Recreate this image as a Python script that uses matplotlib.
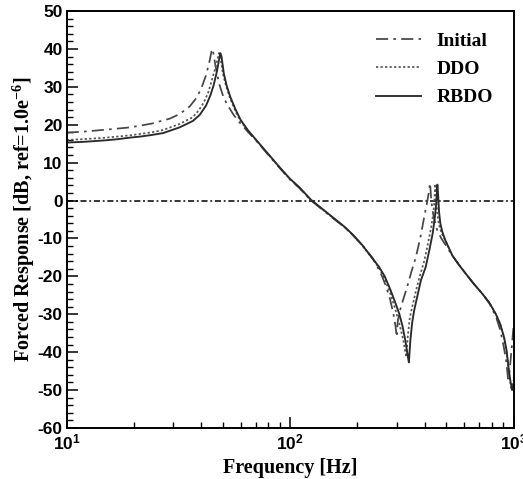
import matplotlib
matplotlib.use("Agg")
import matplotlib.pyplot as plt
from matplotlib.ticker import MultipleLocator, LogLocator, FixedLocator, NullFormatter

plt.rcParams['axes.unicode_minus'] = False
plt.rcParams['mathtext.fontset'] = 'custom'
plt.rcParams['mathtext.rm'] = 'Liberation Serif:bold'
plt.rcParams['mathtext.sf'] = 'Liberation Sans:bold'
plt.rcParams['mathtext.bf'] = 'Liberation Serif:bold'

# ---- data ----
freq_initial = [10, 12, 15, 17, 19.2, 21.5, 24, 28.9, 32, 35.5, 38, 40, 42, 43.5, 44.7, 45.3, 46.5, 48.3, 50.5,
                52.7, 56, 59.4, 65, 70, 78.7, 90, 100, 110, 124, 140, 155, 175, 190, 210, 234, 245, 258, 270,
                280, 290, 296, 300, 303, 310, 320, 335, 350, 365, 382, 398, 410, 417, 423, 427, 432, 441, 455,
                475, 500, 532, 570, 611, 660, 725, 780, 832, 870, 900, 925, 945, 960, 980, 1000]
db_initial = [17.9, 18.2, 18.7, 19.0, 19.3, 19.8, 20.3, 21.6, 22.8, 24.8, 27.0, 29.5, 33.0, 36.5, 40.0, 39.0, 35.0,
              30.5, 27.0, 25.0, 22.5, 20.6, 18.0, 16.0, 12.5, 8.5, 5.5, 3.3, 0.0, -2.5, -4.6, -7.0, -9.0, -11.7,
              -15.2, -17.3, -20.0, -23.0, -26.0, -30.0, -33.0, -36.0, -32.0, -29.0, -26.3, -22.5, -18.5, -15.0,
              -10.0, -4.4, -0.5, 2.0, 4.6, 1.0, -2.0, -4.8, -7.8, -10.0, -12.0, -14.5, -17.0, -19.3, -21.8, -24.6,
              -27.2, -30.5, -34.0, -38.0, -42.0, -47.0, -45.0, -39.0, -33.0]

freq_ddo = [10, 12, 15, 17, 19.2, 21.5, 24, 27, 32, 36.7, 39, 41, 43, 45, 46.5, 48, 48.7, 50, 51.8, 54, 57, 60,
            65, 70, 78.7, 90, 100, 110, 124, 140, 155, 175, 190, 210, 234, 250, 265, 280, 295, 308, 320, 331,
            336, 343, 352, 365, 380, 398, 415, 428, 438, 442, 446, 450, 455, 462, 475, 495, 532, 570, 611, 660,
            725, 780, 832, 870, 906, 930, 953, 975, 990, 1000]
db_ddo = [16.0, 16.2, 16.6, 16.9, 17.2, 17.6, 18.0, 18.6, 20.2, 22.0, 23.8, 25.8, 28.5, 32.5, 35.5, 38.9, 38.0,
          33.5, 30.0, 26.8, 23.5, 21.0, 18.3, 16.1, 12.6, 8.6, 5.6, 3.4, 0.1, -2.4, -4.5, -7.0, -9.0, -11.8,
          -15.4, -17.8, -20.8, -24.3, -28.5, -32.5, -36.5, -41.3, -36.0, -31.0, -28.0, -24.0, -20.0, -16.0,
          -11.0, -7.0, -3.0, 0.0, 4.4, 1.0, -3.0, -6.0, -8.5, -10.5, -14.5, -17.0, -19.3, -21.8, -24.6, -27.0,
          -29.9, -32.5, -36.0, -39.8, -45.5, -49.5, -48.5, -47.5]

freq_rbdo = [10, 12, 15, 17, 19.2, 21.5, 24, 27, 32, 36.7, 39.4, 42, 44, 45.5, 47, 48.7, 49.3, 50.5, 52, 54, 57,
             60, 65, 70, 78.7, 90, 100, 110, 124, 140, 155, 175, 190, 210, 234, 250, 265, 280, 295, 308, 318,
             328, 336, 340, 345, 352, 359, 370, 385, 404, 420, 435, 445, 451, 456, 460, 464, 470, 480, 495, 532,
             570, 611, 660, 725, 780, 832, 870, 906, 930, 953, 970, 985, 1000]
db_rbdo = [15.3, 15.5, 15.9, 16.2, 16.6, 16.9, 17.3, 17.8, 19.3, 21.0, 22.6, 25.0, 27.8, 30.5, 34.0, 38.9, 38.0,
           33.5, 30.3, 27.3, 24.0, 21.3, 18.4, 16.2, 12.7, 8.7, 5.7, 3.5, 0.2, -2.3, -4.4, -6.9, -8.9, -11.7,
           -15.3, -17.5, -20.0, -23.3, -26.8, -29.9, -33.0, -37.0, -41.0, -42.7, -37.0, -32.0, -29.0, -25.5,
           -21.0, -17.6, -13.0, -8.5, -4.0, -0.5, 4.2, 1.0, -3.0, -6.0, -8.3, -10.5, -14.5, -17.0, -19.3, -21.8,
           -24.6, -27.0, -29.9, -32.5, -36.0, -39.5, -44.9, -48.0, -50.0, -48.5]

ref_level = 0.0
series_names = ['Initial', 'DDO', 'RBDO']
y_ticks = list(range(-60, 51, 10))
x_ticks = [10, 100, 1000]
x_ticklabels = [r'$\mathsf{10^{1}}$', r'$\mathsf{10^{2}}$', r'$\mathsf{10^{3}}$']

# ---- figure ----
fig = plt.figure(figsize=(5.23, 4.79), dpi=100)
ax = fig.add_axes([0.1275, 0.1065, 0.8545, 0.8705])

ax.axhline(ref_level, color='black', lw=1.1, dashes=(4, 1.8, 1.2, 1.8))
ax.plot(freq_initial, db_initial, color='#454545', lw=1.25, dashes=(7, 3, 1.5, 3), label=series_names[0])
ax.plot(freq_ddo, db_ddo, color='#555555', lw=1.25, dashes=(1.3, 1.3), label=series_names[1])
ax.plot(freq_rbdo, db_rbdo, color='#2a2a2a', lw=1.35, label=series_names[2])

ax.set_xscale('log')
ax.set_xlim(10, 1000)
ax.set_ylim(-60, 50)
ax.yaxis.set_major_locator(FixedLocator(y_ticks))
ax.yaxis.set_minor_locator(MultipleLocator(2))
ax.xaxis.set_major_locator(FixedLocator(x_ticks))
ax.xaxis.set_minor_locator(LogLocator(base=10, subs=range(2, 10)))
ax.xaxis.set_minor_formatter(NullFormatter())
ax.set_xticklabels(x_ticklabels)

ax.tick_params(which='major', direction='in', length=8, width=1.1, top=False, right=False,
               labelsize=12.5, pad=3)
ax.tick_params(axis='x', which='major', pad=4)
ax.tick_params(which='minor', direction='in', length=4.3, width=1.0, top=False, right=False)
for lbl in ax.get_yticklabels():
    lbl.set_fontfamily('Liberation Sans')
    lbl.set_fontweight('bold')
for lbl in ax.get_xticklabels():
    lbl.set_fontsize(12.5)

for sp in ax.spines.values():
    sp.set_linewidth(1.4)

ax.set_xlabel('Frequency [Hz]', family='Liberation Serif', fontweight='bold', fontsize=14.5, labelpad=3)
ax.set_ylabel(r'Forced Response [dB, ref=1.0e$^{\mathrm{-6}}$]', family='Liberation Serif',
              fontweight='bold', fontsize=14.5, labelpad=0.5)

leg = ax.legend(loc='upper right', frameon=False, prop={'family': 'Liberation Serif', 'weight': 'bold', 'size': 14},
                handlelength=2.3, handletextpad=0.8, labelspacing=0.55, borderaxespad=0.3,
                bbox_to_anchor=(0.985, 0.982))

fig.savefig('out.png', dpi=100)
